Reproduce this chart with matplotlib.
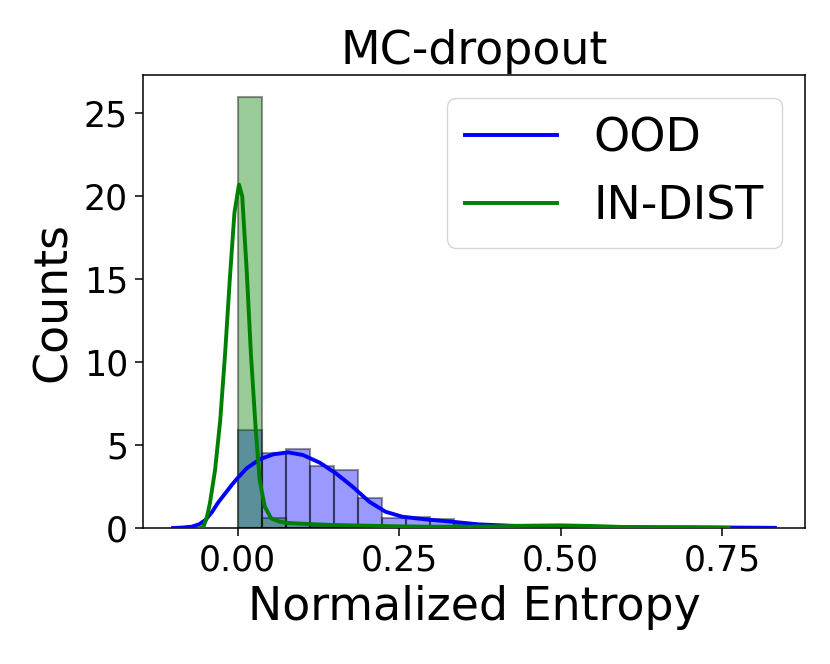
import matplotlib.pyplot as plt
import numpy as np

# histogram heights (density), both series share the same bin width
bin_width = 0.0372
ood_hist = [5.9, 4.54, 4.74, 3.73, 3.49, 1.83, 0.58, 0.68, 0.54, 0.24,
            0.12, 0.06, 0.06, 0.0, 0.03, 0.0, 0.03, 0.03]
ind_hist = [26.0, 0.62, 0.31, 0.12, 0.06, 0.06, 0.0, 0.03, 0.0, 0.03,
            0.0, 0.06, 0.12, 0.06, 0.0, 0.0, 0.0, 0.03, 0.03]

# kde curves
ood_kde_x = [-0.100, -0.085, -0.071, -0.060, -0.050, -0.040, -0.030, -0.017, -0.009,
             -0.0015, 0.014, 0.034, 0.055, 0.078, 0.101, 0.127, 0.152, 0.178,
             0.204, 0.229, 0.255, 0.291, 0.332, 0.373, 0.42, 0.47, 0.50, 0.55,
             0.60, 0.65, 0.70, 0.75, 0.80, 0.832]
ood_kde_y = [0.0, 0.03, 0.08, 0.22, 0.48, 0.95, 1.55, 2.2, 2.6,
             2.95, 3.6, 4.14, 4.44, 4.56, 4.4, 3.94, 3.3, 2.49,
             1.58, 0.98, 0.68, 0.52, 0.38, 0.22, 0.14, 0.1, 0.08, 0.06,
             0.05, 0.04, 0.04, 0.03, 0.02, 0.01]

ind_kde_x = [-0.058, -0.053, -0.048, -0.043, -0.035, -0.027, -0.0195, -0.012, -0.005,
             0.002, 0.007, 0.014, 0.0205, 0.028, 0.034, 0.042, 0.052, 0.065,
             0.08, 0.11, 0.15, 0.20, 0.25, 0.30, 0.35, 0.40, 0.45, 0.50,
             0.55, 0.60, 0.65, 0.70, 0.76]
ind_kde_y = [0.0, 0.08, 0.6, 1.49, 3.5, 6.5, 10.5, 15.1, 19.0,
             20.7, 20.0, 15.5, 10.5, 5.9, 2.9, 1.28, 0.58, 0.38,
             0.3, 0.24, 0.18, 0.14, 0.1, 0.08, 0.08, 0.1, 0.14, 0.16,
             0.12, 0.06, 0.04, 0.03, 0.01]

labels = ['OOD', 'IN-DIST']

fig = plt.figure(figsize=(8.3, 6.64), dpi=100)
ax = fig.add_axes([0.1723, 0.2048, 0.7976, 0.6822])

ood_edges = np.arange(len(ood_hist)) * bin_width
ind_edges = np.arange(len(ind_hist)) * bin_width

# OOD first, then IN-DIST on top
ax.bar(ood_edges, ood_hist, width=bin_width, align='edge', color='blue',
       alpha=0.4, edgecolor='black', linewidth=1.5)
ax.plot(ood_kde_x, ood_kde_y, color='blue', lw=2.8, label=labels[0], zorder=3)
ax.bar(ind_edges, ind_hist, width=bin_width, align='edge', color='green',
       alpha=0.4, edgecolor='black', linewidth=1.5)
ax.plot(ind_kde_x, ind_kde_y, color='green', lw=2.8, label=labels[1], zorder=3)

ax.set_title('MC-dropout', fontsize=33, pad=8.3)
ax.set_xlabel('Normalized Entropy', fontsize=33, labelpad=5.5)
ax.set_ylabel('Counts', fontsize=33, labelpad=5.5)
ax.set_xticks([0.0, 0.25, 0.5, 0.75])
ax.set_xticklabels(['0.00', '0.25', '0.50', '0.75'])
ax.set_yticks([0, 5, 10, 15, 20, 25])
ax.tick_params(labelsize=25, length=6, width=1.1, pad=4.8)
for s in ax.spines.values():
    s.set_linewidth(1.1)

ax.legend(fontsize=33, loc='upper right')

fig.savefig('out.png', dpi=100)
